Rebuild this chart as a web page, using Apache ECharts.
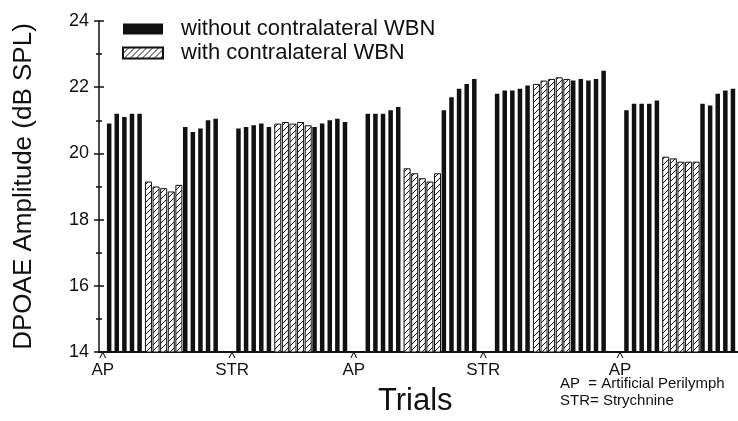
<!DOCTYPE html>
<html>
<head>
<meta charset="utf-8">
<script src="https://cdn.jsdelivr.net/npm/echarts@6/dist/echarts.min.js"></script>
<style>
  html, body { margin: 0; padding: 0; background: #fff; }
  #main { width: 738px; height: 421px; }
</style>
</head>
<body>
<div id="main"></div>
<script>
// treatment marks between the blocks of trials
var gapLabels = [['AP'], ['', 'STR'], ['AP', ''], ['STR', ''], ['', 'AP']];

// black bars before the noise, hatched bars with noise, black bars after
var beforeWBN = [
  [20.9, 21.2, 21.1, 21.2, 21.2],
  [20.75, 20.8, 20.85, 20.9, 20.8],
  [21.2, 21.2, 21.2, 21.3, 21.4],
  [21.8, 21.9, 21.9, 21.95, 22.05],
  [21.3, 21.5, 21.5, 21.5, 21.6]
];
var withWBN = [
  [19.15, 19.0, 18.95, 18.85, 19.05],
  [20.9, 20.95, 20.9, 20.95, 20.85],
  [19.55, 19.4, 19.25, 19.15, 19.4],
  [22.1, 22.2, 22.25, 22.3, 22.25],
  [19.9, 19.85, 19.75, 19.75, 19.75]
];
var afterWBN = [
  [20.8, 20.65, 20.75, 21.0, 21.05],
  [20.8, 20.9, 21.0, 21.05, 20.95],
  [21.3, 21.7, 21.95, 22.1, 22.25],
  [22.2, 22.25, 22.2, 22.25, 22.5],
  [21.5, 21.45, 21.8, 21.9, 21.95]
];

var yTicks = [14, 16, 18, 20, 22, 24];

// build the slot list
var categories = [];
var tickLabels = [];
var blackData = [];
var hatchData = [];
function addSlot(label, black, hatched) {
  categories.push('t' + categories.length);
  tickLabels.push(label);
  blackData.push(black);
  hatchData.push(hatched);
}
for (var g = 0; g < beforeWBN.length; g++) {
  gapLabels[g].forEach(function (l) { addSlot(l, '-', '-'); });
  beforeWBN[g].forEach(function (v) { addSlot('', v, '-'); });
  withWBN[g].forEach(function (v) { addSlot('', '-', v); });
  afterWBN[g].forEach(function (v) { addSlot('', v, '-'); });
}

// hatch fill
var hatch = document.createElement('canvas');
hatch.width = 6; hatch.height = 6;
var ctx = hatch.getContext('2d');
ctx.fillStyle = '#fff';
ctx.fillRect(0, 0, 6, 6);
ctx.strokeStyle = '#111';
ctx.lineWidth = 1;
ctx.beginPath();
ctx.moveTo(0, 6); ctx.lineTo(6, 0);
ctx.moveTo(-1, 1); ctx.lineTo(1, -1);
ctx.moveTo(5, 7); ctx.lineTo(7, 5);
ctx.stroke();

var font = "'Liberation Sans', Arial, sans-serif";
var chart = echarts.init(document.getElementById('main'), null, { renderer: 'canvas' });

var yBase = {
  type: 'value',
  min: yTicks[0],
  max: yTicks[yTicks.length - 1],
  interval: 2,
  splitLine: { show: false },
  minorSplitLine: { show: false }
};
var tickLine = { color: '#111', width: 1.5 };

chart.setOption({
  animation: false,
  backgroundColor: '#fff',
  textStyle: { fontFamily: font },
  grid: { left: 99, right: 0, top: 21, bottom: 69 },
  legend: {
    orient: 'vertical',
    left: 122,
    top: 18,
    padding: 0,
    itemWidth: 40,
    itemHeight: 11,
    itemGap: 2,
    icon: 'rect',
    textStyle: { fontSize: 22, color: '#111', fontFamily: font, lineHeight: 22, padding: [0, 0, 0, 13] },
    data: ['without contralateral WBN', 'with contralateral WBN']
  },
  xAxis: {
    type: 'category',
    data: categories,
    axisLine: { lineStyle: { color: '#111', width: 2 } },
    axisTick: { show: false },
    axisLabel: {
      interval: 0,
      margin: 0,
      formatter: function (val, idx) {
        var t = tickLabels[idx];
        return t ? '{c|^}\n{t|' + t + '}' : '';
      },
      rich: {
        c: { fontSize: 15, lineHeight: 10, color: '#111', fontFamily: font, padding: [4, 0, 0, 0] },
        t: { fontSize: 17, lineHeight: 16, color: '#111', fontFamily: font }
      }
    }
  },
  yAxis: [
    Object.assign({}, yBase, {
      name: 'DPOAE Amplitude (dB SPL)',
      nameLocation: 'middle',
      nameGap: 62,
      nameTextStyle: { fontSize: 26, color: '#111', fontFamily: font },
      axisLine: { show: true, lineStyle: { color: '#111', width: 1.5 } },
      axisTick: { show: true, length: 5, lineStyle: tickLine },
      minorTick: { show: true, splitNumber: 2, length: 3, lineStyle: tickLine },
      axisLabel: { fontSize: 18, color: '#111', margin: 10, fontFamily: font }
    }),
    Object.assign({}, yBase, {
      position: 'left',
      axisLine: { show: false },
      axisTick: { show: true, inside: true, length: 5, lineStyle: tickLine },
      minorTick: { show: true, splitNumber: 2, length: 3, lineStyle: tickLine },
      axisLabel: { show: false }
    })
  ],
  series: [
    {
      name: 'without contralateral WBN',
      type: 'bar',
      data: blackData,
      barWidth: 4.5,
      barGap: '-100%',
      itemStyle: { color: '#111' }
    },
    {
      name: 'with contralateral WBN',
      type: 'bar',
      data: hatchData,
      barWidth: 7,
      itemStyle: { color: { image: hatch, repeat: 'repeat' }, borderColor: '#111', borderWidth: 1 }
    }
  ],
  graphic: [
    {
      type: 'text',
      left: 378,
      top: 386,
      style: { text: 'Trials', fontSize: 31, fill: '#111', fontFamily: font }
    },
    {
      type: 'text',
      left: 560,
      top: 375,
      style: {
        text: 'AP  = Artificial Perilymph\nSTR= Strychnine',
        fontSize: 15,
        lineHeight: 17,
        fill: '#111',
        fontFamily: font
      }
    }
  ]
});
</script>
</body>
</html>
